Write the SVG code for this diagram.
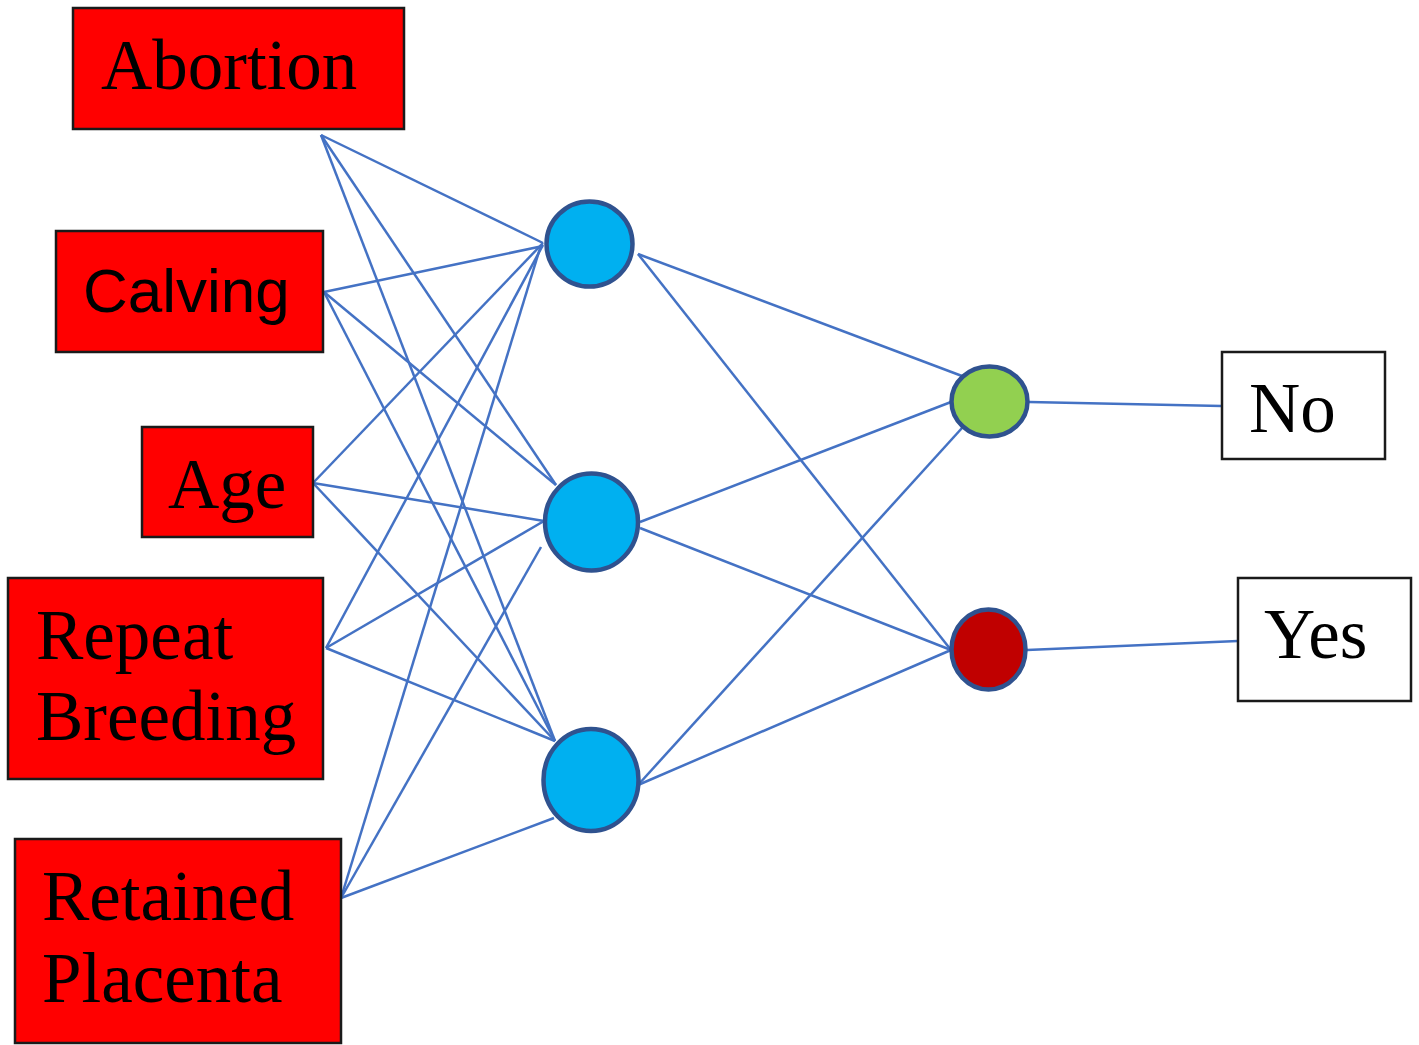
<svg xmlns="http://www.w3.org/2000/svg" width="1419" height="1045" viewBox="0 0 1419 1045">
<style>
.in{fill:#FF0000;stroke:#1a1a1a;stroke-width:2.5}
.out{fill:#FFFFFF;stroke:#1a1a1a;stroke-width:2.5}
.t{font-family:"Liberation Serif","Times New Roman",serif;font-size:71px;fill:#000}
.s{font-family:"Liberation Sans",Arial,sans-serif;font-size:62px;fill:#000}
.n{stroke:#2F528F;stroke-width:4.5}
.c line{stroke:#4472C4;stroke-width:2.5}
</style>
<rect width="1419" height="1045" fill="#fff"/>
<g id="connectors" class="c">
<line x1="321" y1="135" x2="543" y2="243"/>
<line x1="321" y1="135" x2="556" y2="485"/>
<line x1="321" y1="135" x2="555" y2="741"/>
<line x1="324" y1="292" x2="543" y2="246"/>
<line x1="324" y1="292" x2="556" y2="485"/>
<line x1="324" y1="292" x2="555" y2="741"/>
<line x1="313" y1="483" x2="543" y2="243"/>
<line x1="313" y1="483" x2="544" y2="521"/>
<line x1="313" y1="483" x2="555" y2="741"/>
<line x1="326" y1="648" x2="543" y2="245"/>
<line x1="326" y1="648" x2="544" y2="521"/>
<line x1="326" y1="648" x2="555" y2="741"/>
<line x1="341" y1="898" x2="541" y2="245"/>
<line x1="341" y1="898" x2="541" y2="547"/>
<line x1="341" y1="898" x2="554" y2="818"/>
<line x1="638" y1="254" x2="962" y2="376"/>
<line x1="638" y1="254" x2="951" y2="650"/>
<line x1="640" y1="522" x2="951" y2="402"/>
<line x1="640" y1="528" x2="951" y2="650"/>
<line x1="638" y1="785" x2="962" y2="428"/>
<line x1="638" y1="785" x2="951" y2="650"/>
<line x1="1029" y1="402" x2="1222" y2="406"/>
<line x1="1027" y1="650" x2="1238" y2="641"/>
</g>
<g id="abortion"><rect class="in" x="73" y="8" width="331" height="121"/><text class="t" x="101" y="89">Abortion</text></g>
<g id="calving"><rect class="in" x="56" y="231" width="267" height="121"/><text class="s" x="83" y="312">Calving</text></g>
<g id="age"><rect class="in" x="142" y="427" width="171" height="110"/><text class="t" x="168" y="508">Age</text></g>
<g id="repeat-breeding"><rect class="in" x="8" y="578" width="315" height="201"/><text class="t" x="36" y="659">Repeat</text><text class="t" x="36" y="740">Breeding</text></g>
<g id="retained-placenta"><rect class="in" x="15" y="839" width="326" height="204"/><text class="t" x="42" y="920">Retained</text><text class="t" x="42" y="1002">Placenta</text></g>
<g id="hidden1"><ellipse class="n" cx="589.5" cy="244" rx="43" ry="42.5" fill="#00B0F0"/></g>
<g id="hidden2"><ellipse class="n" cx="591.5" cy="522" rx="46.5" ry="48.5" fill="#00B0F0"/></g>
<g id="hidden3"><ellipse class="n" cx="591" cy="780" rx="47.5" ry="51" fill="#00B0F0"/></g>
<g id="out-green"><ellipse class="n" cx="989.5" cy="401.5" rx="38" ry="35" fill="#92D050"/></g>
<g id="out-red"><ellipse class="n" cx="988.5" cy="649.5" rx="37" ry="40" fill="#C00000"/></g>
<g id="no"><rect class="out" x="1222" y="352" width="163" height="107"/><text class="t" x="1249" y="432">No</text></g>
<g id="yes"><rect class="out" x="1238" y="578" width="173" height="123"/><text class="t" x="1264" y="658">Yes</text></g>
</svg>
